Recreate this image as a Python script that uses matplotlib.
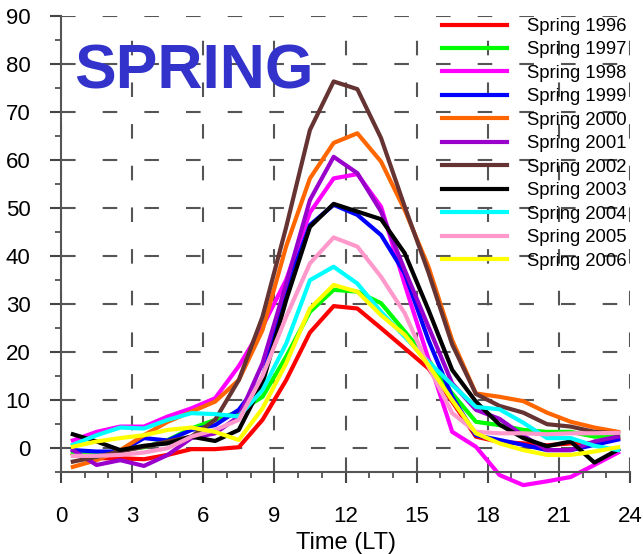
import numpy as np
import matplotlib.pyplot as plt
from matplotlib.ticker import MultipleLocator

plt.rcParams['font.family'] = ['Liberation Sans', 'DejaVu Sans']

# local time, half-hour centres
hours = np.arange(0.5, 24, 1.0)

years = ['Spring 1996', 'Spring 1997', 'Spring 1998', 'Spring 1999', 'Spring 2000', 'Spring 2001',
         'Spring 2002', 'Spring 2003', 'Spring 2004', 'Spring 2005', 'Spring 2006']
colors = ['#FF0000', '#00FF00', '#FF00FF', '#0000FF', '#FF6600', '#9900CC',
          '#663333', '#000000', '#00FFFF', '#FF99CC', '#FFFF00']

s1996 = [-1.2, -2.2, -2.2, -2.4, -1.5, -0.3, -0.3, 0.1, 5.8, 14.1, 24.0, 29.5,
         29.0, 24.9, 20.7, 16.5, 9.6, 2.3, 1.2, 0.9, 0.5, 0.9, 1.0, 2.0]
s1997 = [-1.2, -1.5, -0.5, 0.1, 1.6, 4.0, 5.8, 7.5, 10.6, 19.0, 28.3, 32.9,
         32.5, 30.1, 24.2, 18.3, 11.3, 5.4, 4.7, 3.7, 3.3, 3.3, 2.3, 2.3]
s1998 = [1.5, 3.3, 4.4, 4.4, 6.5, 8.2, 10.3, 17.0, 25.2, 35.0, 49.0, 56.1,
         57.0, 50.2, 34.0, 18.5, 3.3, 0.2, -5.7, -7.8, -7.0, -6.1, -3.6, -1.0]
s1999 = [-0.5, -0.8, -0.8, 2.0, 1.5, 3.7, 4.7, 7.9, 14.5, 32.9, 46.4, 50.6,
         48.5, 44.3, 36.3, 22.4, 10.6, 2.6, 1.6, 0.6, -0.5, -0.5, 0.6, 1.7]
s2000 = [-4.0, -2.6, -0.5, 2.6, 5.4, 7.5, 9.6, 14.1, 24.5, 42.0, 56.1, 63.5,
         65.5, 59.6, 49.5, 37.7, 22.4, 11.3, 10.6, 9.7, 7.3, 5.4, 4.2, 3.3]
s2001 = [-0.5, -3.6, -2.6, -3.8, -1.5, 2.0, 3.0, 6.5, 17.6, 34.2, 51.6, 60.6,
         57.2, 49.2, 37.0, 25.2, 13.4, 7.9, 6.0, 2.5, -0.5, -0.5, 1.3, 2.3]
s2002 = [-2.9, -1.9, -0.8, 0.2, 1.3, 2.3, 5.8, 14.1, 27.3, 46.0, 66.2, 76.3,
         74.7, 64.5, 50.2, 36.5, 21.5, 11.2, 8.7, 7.3, 4.9, 4.4, 3.3, 3.0]
s2003 = [2.8, 1.3, -0.5, 0.4, 0.9, 2.3, 1.4, 3.7, 13.4, 30.8, 46.0, 50.8,
         49.2, 47.6, 40.5, 28.7, 16.2, 9.6, 4.8, 2.0, 0.3, 1.3, -3.1, -0.4]
s2004 = [0.6, 2.6, 4.2, 4.0, 5.8, 7.2, 7.0, 6.5, 12.0, 21.7, 34.9, 37.7,
         34.2, 28.3, 23.1, 17.9, 13.1, 8.5, 8.0, 5.2, 2.0, 2.0, 0.4, -0.5]
s2005 = [-1.7, -1.7, -1.5, -1.0, -0.1, 2.3, 3.7, 5.8, 15.0, 27.3, 38.4, 43.8,
         41.9, 35.6, 28.0, 16.9, 7.2, 3.3, 3.0, 3.0, 2.8, 3.0, 3.0, 3.1]
s2006 = [0.2, 1.3, 2.0, 2.6, 3.7, 4.2, 3.3, 1.6, 8.2, 17.6, 29.0, 33.9,
         32.5, 27.6, 23.5, 17.2, 9.9, 3.0, 0.9, -0.5, -1.5, -1.5, -0.8, 0.1]

series = [s1996, s1997, s1998, s1999, s2000, s2001, s2002, s2003, s2004, s2005, s2006]

fig = plt.figure(figsize=(6.43, 5.54), dpi=100)
ax = fig.add_axes([61/643, 82.3/554, 569/643, 456/554])

for name, col, vals in zip(years, colors, series):
    # the 1998 curve dips below the bottom axis in the original, so no clipping
    ax.plot(hours, vals, color=col, lw=3, label=name, clip_on=False)

ax.set_xlim(0, 24)
ax.set_ylim(-5, 90)
ax.set_xticks(range(0, 25, 3))
ax.set_yticks(range(0, 91, 10))
ax.xaxis.set_minor_locator(MultipleLocator(1))
ax.yaxis.set_minor_locator(MultipleLocator(5))
ax.tick_params(which='major', direction='out', length=8, width=1.5, color='#444444', labelsize=16)
ax.tick_params(which='minor', direction='out', length=4, width=1.2, color='#444444')
ax.tick_params(axis='x', which='major', pad=17)
ax.tick_params(axis='y', which='major', pad=14)

ax.grid(True, which='major', linestyle=(0, (7, 13)), color='#555555', lw=1.5)
ax.set_axisbelow(True)
for side in ['top', 'right']:
    ax.spines[side].set_visible(False)
for side in ['left', 'bottom']:
    ax.spines[side].set_color('#555555')
    ax.spines[side].set_linewidth(1.5)

ax.set_xlabel('Time (LT)', fontsize=17, labelpad=3)

ax.text(0.55, 74.8, 'SPRING', fontsize=45, fontweight='bold', color='#3333CC', va='baseline', ha='left')

ax.legend(loc='upper left', bbox_to_anchor=(442/643, 1 - 18/554), bbox_transform=fig.transFigure,
          frameon=False, fontsize=13.3, handlelength=3.5, handletextpad=1.1,
          labelspacing=0.35, borderpad=0, borderaxespad=0)

fig.savefig('out.png', dpi=100)
